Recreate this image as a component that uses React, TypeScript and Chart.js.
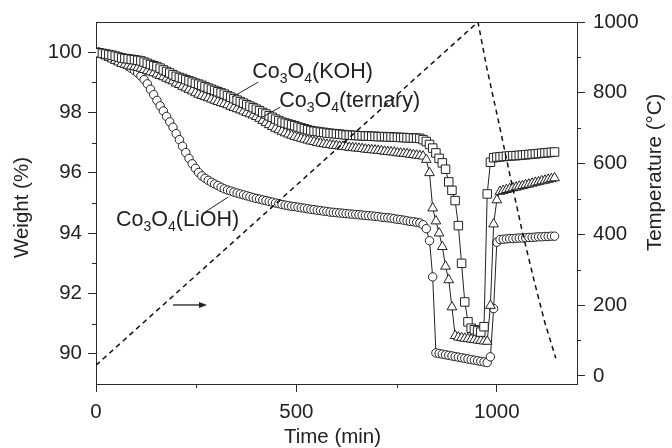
import React, { useEffect, useRef } from 'react';
import { Chart, registerables } from 'chart.js';

Chart.register(...registerables);

// ---------- data ----------
const timeMin = [
  0, 8, 16, 24, 32, 40, 48, 56, 64, 72,
  80, 88, 96, 104, 112, 120, 128, 136, 144, 152,
  160, 168, 176, 184, 192, 200, 208, 216, 224, 232,
  240, 248, 256, 264, 272, 280, 288, 296, 304, 312,
  320, 328, 336, 344, 352, 360, 368, 376, 384, 392,
  400, 408, 416, 424, 432, 440, 448, 456, 464, 472,
  480, 488, 496, 504, 512, 520, 528, 536, 544, 552,
  560, 568, 576, 584, 592, 600, 608, 616, 624, 632,
  640, 648, 656, 664, 672, 680, 688, 696, 704, 712,
  720, 728, 736, 744, 752, 760, 768, 776, 784, 792,
  800, 808, 816, 824, 832, 840, 848, 856, 864, 872,
  880, 888, 896, 904, 912, 920, 928, 936, 944, 952,
  960, 968, 976, 984, 992, 1000, 1008, 1016, 1024, 1032,
  1040, 1048, 1056, 1064, 1072, 1080, 1088, 1096, 1104, 1112,
  1120, 1128, 1136, 1144,
];

const kohWeight = [
  100.0, 99.98, 99.96, 99.94, 99.92, 99.9, 99.87, 99.84, 99.81, 99.79,
  99.78, 99.76, 99.75, 99.73, 99.71, 99.67, 99.63, 99.59, 99.55, 99.52,
  99.47, 99.41, 99.36, 99.31, 99.25, 99.2, 99.16, 99.13, 99.09, 99.05,
  99.01, 98.97, 98.94, 98.9, 98.85, 98.81, 98.77, 98.73, 98.69, 98.65,
  98.61, 98.56, 98.51, 98.46, 98.41, 98.36, 98.31, 98.26, 98.21, 98.16,
  98.11, 98.06, 98.0, 97.95, 97.89, 97.84, 97.78, 97.73, 97.68, 97.65,
  97.62, 97.59, 97.56, 97.52, 97.49, 97.46, 97.43, 97.4, 97.38, 97.37,
  97.35, 97.34, 97.32, 97.31, 97.3, 97.29, 97.28, 97.27, 97.25, 97.25,
  97.24, 97.24, 97.23, 97.23, 97.22, 97.22, 97.21, 97.21, 97.2, 97.2,
  97.2, 97.19, 97.19, 97.18, 97.18, 97.17, 97.17, 97.16, 97.16, 97.15,
  97.15, 97.14, 97.1, 97.04, 96.94, 96.82, 96.66, 96.48, 96.33, 96.12,
  95.7, 95.42, 95.08, 94.25, 93.0, 91.72, 91.06, 90.85, 90.8, 90.76,
  90.72, 90.9, 95.3, 96.35, 96.5, 96.52, 96.53, 96.54, 96.55, 96.56,
  96.57, 96.57, 96.58, 96.59, 96.6, 96.61, 96.62, 96.63, 96.64, 96.65,
  96.66, 96.67, 96.68, 96.69,
];

const ternaryWeight = [
  100.0, 99.96, 99.92, 99.87, 99.82, 99.77, 99.72, 99.67, 99.62, 99.59,
  99.56, 99.53, 99.51, 99.49, 99.46, 99.42, 99.38, 99.34, 99.31, 99.27,
  99.22, 99.18, 99.13, 99.08, 99.04, 98.97, 98.92, 98.86, 98.81, 98.76,
  98.71, 98.65, 98.6, 98.56, 98.52, 98.48, 98.44, 98.4, 98.36, 98.32,
  98.29, 98.25, 98.2, 98.16, 98.12, 98.08, 98.04, 97.99, 97.95, 97.91,
  97.86, 97.8, 97.73, 97.66, 97.59, 97.53, 97.47, 97.42, 97.37, 97.32,
  97.28, 97.24, 97.2, 97.17, 97.14, 97.11, 97.08, 97.05, 97.03, 97.0,
  96.98, 96.96, 96.94, 96.93, 96.91, 96.9, 96.88, 96.87, 96.86, 96.84,
  96.83, 96.82, 96.81, 96.8, 96.78, 96.77, 96.76, 96.75, 96.74, 96.73,
  96.71, 96.7, 96.69, 96.68, 96.66, 96.65, 96.64, 96.63, 96.61, 96.6,
  96.58, 96.57, 96.55, 96.44, 96.0, 94.83, 94.4, 94.0, 93.55, 92.9,
  92.45, 91.55, 90.6, 90.55, 90.53, 90.51, 90.5, 90.48, 90.47, 90.45,
  90.44, 90.42, 90.41, 91.6, 94.3, 95.1, 95.38, 95.41, 95.44, 95.47,
  95.5, 95.52, 95.55, 95.57, 95.6, 95.62, 95.65, 95.68, 95.7, 95.73,
  95.75, 95.78, 95.8, 95.83,
];

const liohWeight = [
  100.0, 99.97, 99.94, 99.91, 99.87, 99.82, 99.78, 99.73, 99.67, 99.6,
  99.53, 99.46, 99.39, 99.31, 99.21, 99.09, 98.95, 98.77, 98.59, 98.4,
  98.22, 98.05, 97.87, 97.69, 97.51, 97.3, 97.1, 96.88, 96.67, 96.48,
  96.3, 96.15, 96.01, 95.9, 95.82, 95.75, 95.69, 95.63, 95.58, 95.52,
  95.47, 95.43, 95.4, 95.36, 95.33, 95.3, 95.27, 95.24, 95.21, 95.18,
  95.15, 95.13, 95.1, 95.08, 95.05, 95.03, 95.0, 94.98, 94.95, 94.93,
  94.91, 94.89, 94.88, 94.86, 94.84, 94.83, 94.81, 94.79, 94.78, 94.76,
  94.75, 94.73, 94.72, 94.7, 94.69, 94.68, 94.67, 94.66, 94.65, 94.64,
  94.63, 94.62, 94.61, 94.6, 94.59, 94.58, 94.57, 94.56, 94.55, 94.53,
  94.52, 94.51, 94.5, 94.48, 94.46, 94.45, 94.43, 94.41, 94.39, 94.38,
  94.36, 94.34, 94.28, 94.15, 93.75, 92.55, 90.03, 90.01, 89.99, 89.97,
  89.95, 89.93, 89.91, 89.89, 89.87, 89.85, 89.83, 89.81, 89.79, 89.77,
  89.75, 89.73, 89.71, 89.9, 91.5, 93.7, 93.79, 93.8, 93.81, 93.82,
  93.82, 93.83, 93.84, 93.84, 93.85, 93.86, 93.86, 93.87, 93.88, 93.88,
  93.89, 93.89, 93.9, 93.9,
];

const tempTime = [0, 953, 975, 1005, 1035, 1065, 1095, 1120, 1147];
const tempValue = [30, 1000, 870, 715, 555, 400, 260, 150, 50];

const xTicks = [0, 500, 1000];
const xMinorTicks = [250, 750];
const weightTicks = [90, 92, 94, 96, 98, 100];
const weightMinorTicks = [91, 93, 95, 97, 99];
const tempTicks = [0, 200, 400, 600, 800, 1000];
const tempMinorTicks = [100, 300, 500, 700, 900];

// labels (text, anchor time, anchor weight at baseline-left)
const labelTexts = ['Co3O4(KOH)', 'Co3O4(ternary)', 'Co3O4(LiOH)'];
const labelTime = [390, 457, 50];
const labelWeight = [99.16, 98.17, 94.23];
// leader lines
const leaderFromTime = [405, 460, 272];
const leaderFromWeight = [99.01, 98.18, 94.7];
const leaderToTime = [340, 410, 330];
const leaderToWeight = [98.51, 97.81, 95.2];
// arrow pointing to the temperature axis
const arrowTime = [192, 277];
const arrowWeight = 91.62;

const xTitle = 'Time (min)';
const yTitle = 'Weight (%)';
const tTitle = 'Temperature (\u00B0C)';

// ---------- style ----------
const FONT = '"Liberation Sans", Arial, sans-serif';
const TEXT = '#222';
const AXIS = '#2a2a2a';
const LINE = '#222';
const MINOR = 4;

function drawChem(ctx: CanvasRenderingContext2D, text: string, x: number, y: number) {
  const parts = text.split(/(\d+)/);
  let cx = x;
  parts.forEach((p, i) => {
    if (!p) return;
    const sub = i % 2 === 1;
    ctx.font = sub ? `14px ${FONT}` : `21.5px ${FONT}`;
    ctx.fillText(p, cx, sub ? y + 5 : y);
    cx += ctx.measureText(p).width;
  });
}

const overlayPlugin = {
  id: 'overlay',
  afterDraw(chart: any) {
    const { ctx, chartArea: a, scales } = chart;
    const sx = scales.x, sy = scales.y, st = scales.yT;
    ctx.save();
    ctx.strokeStyle = AXIS;
    ctx.lineWidth = 1;
    ctx.beginPath();
    ctx.moveTo(a.left, Math.round(a.top) + 0.5);
    ctx.lineTo(a.right, Math.round(a.top) + 0.5);
    ctx.stroke();
    ctx.beginPath();
    xMinorTicks.forEach((v) => {
      const p = Math.round(sx.getPixelForValue(v)) + 0.5;
      ctx.moveTo(p, a.bottom);
      ctx.lineTo(p, a.bottom + MINOR);
    });
    weightMinorTicks.forEach((v) => {
      const p = Math.round(sy.getPixelForValue(v)) + 0.5;
      ctx.moveTo(a.left, p);
      ctx.lineTo(a.left - MINOR, p);
    });
    tempMinorTicks.forEach((v) => {
      const p = Math.round(st.getPixelForValue(v)) + 0.5;
      ctx.moveTo(a.right, p);
      ctx.lineTo(a.right + MINOR, p);
    });
    ctx.stroke();

    ctx.strokeStyle = '#222';
    ctx.lineWidth = 1;
    ctx.beginPath();
    leaderFromTime.forEach((t, i) => {
      ctx.moveTo(sx.getPixelForValue(t), sy.getPixelForValue(leaderFromWeight[i]));
      ctx.lineTo(sx.getPixelForValue(leaderToTime[i]), sy.getPixelForValue(leaderToWeight[i]));
    });
    ctx.stroke();

    const ax0 = sx.getPixelForValue(arrowTime[0]);
    const ax1 = sx.getPixelForValue(arrowTime[1]);
    const ay = sy.getPixelForValue(arrowWeight);
    ctx.lineWidth = 1.3;
    ctx.beginPath();
    ctx.moveTo(ax0, ay);
    ctx.lineTo(ax1 - 5, ay);
    ctx.stroke();
    ctx.fillStyle = '#222';
    ctx.beginPath();
    ctx.moveTo(ax1, ay);
    ctx.lineTo(ax1 - 8, ay - 3);
    ctx.lineTo(ax1 - 8, ay + 3);
    ctx.closePath();
    ctx.fill();

    ctx.fillStyle = TEXT;
    ctx.textAlign = 'left';
    ctx.textBaseline = 'alphabetic';
    labelTexts.forEach((txt, i) => {
      drawChem(ctx, txt, sx.getPixelForValue(labelTime[i]), sy.getPixelForValue(labelWeight[i]));
    });

    ctx.font = `20.5px ${FONT}`;
    ctx.textAlign = 'center';
    ctx.fillText(xTitle, sx.getPixelForValue(590), a.bottom + 59);
    ctx.save();
    ctx.translate(a.left - 68, sy.getPixelForValue(94.85));
    ctx.rotate(-Math.PI / 2);
    ctx.fillText(yTitle, 0, 0);
    ctx.restore();
    ctx.save();
    ctx.translate(a.right + 84, st.getPixelForValue(575));
    ctx.rotate(-Math.PI / 2);
    ctx.fillText(tTitle, 0, 0);
    ctx.restore();

    ctx.restore();
  },
};

function axisOpts(ticks: number[], pad: number, fit: (s: any) => void) {
  return {
    grid: { drawOnChartArea: false, drawTicks: true, tickLength: 8, color: AXIS, tickColor: AXIS, lineWidth: 1 },
    border: { display: true, color: AXIS, width: 1 },
    ticks: {
      font: { family: FONT, size: 20.5 },
      color: TEXT,
      padding: pad,
      maxRotation: 0,
      autoSkip: false,
      callback: (v: number) => String(v),
    },
    afterBuildTicks: (s: any) => {
      s.ticks = ticks.map((v) => ({ value: v }));
    },
    afterFit: fit,
  };
}

export default function App() {
  const ref = useRef<HTMLCanvasElement>(null);
  useEffect(() => {
    document.body.style.margin = '0';
    const mk = (ys: number[]) => timeMin.map((t, i) => ({ x: t, y: ys[i] }));
    const markerBase = {
      yAxisID: 'y',
      showLine: true,
      borderColor: LINE,
      borderWidth: 1,
      pointBorderWidth: 1,
      pointBackgroundColor: '#ffffff',
      pointBorderColor: LINE,
    };
    const chart = new Chart(ref.current as HTMLCanvasElement, {
      type: 'scatter',
      data: {
        datasets: [
          {
            label: 'Temperature',
            data: tempTime.map((t, i) => ({ x: t, y: tempValue[i] })),
            yAxisID: 'yT',
            showLine: true,
            borderColor: '#111',
            borderWidth: 1.5,
            borderDash: [5, 4],
            pointRadius: 0,
            fill: false,
          },
          { ...markerBase, label: labelTexts[0], data: mk(kohWeight), pointStyle: 'rect', pointRadius: 6 },
          { ...markerBase, label: labelTexts[1], data: mk(ternaryWeight), pointStyle: 'triangle', pointRadius: 5.6 },
          { ...markerBase, label: labelTexts[2], data: mk(liohWeight), pointStyle: 'circle', pointRadius: 4.2 },
        ] as any,
      },
      options: {
        responsive: false,
        animation: false,
        devicePixelRatio: 1,
        layout: { padding: { top: 22, left: 0, right: 0, bottom: 0 } },
        elements: { line: { tension: 0 } },
        plugins: { legend: { display: false }, tooltip: { enabled: false } },
        scales: {
          x: {
            type: 'linear',
            position: 'bottom',
            min: 0,
            max: 1200,
            ...axisOpts(xTicks, 8, (s: any) => { s.height = 64; }),
          },
          y: {
            type: 'linear',
            position: 'left',
            min: 89,
            max: 101,
            ...axisOpts(weightTicks, 6, (s: any) => { s.width = 96; }),
          },
          yT: {
            type: 'linear',
            position: 'right',
            min: -23,
            max: 1000,
            ...axisOpts(tempTicks, 8, (s: any) => { s.width = 95; }),
          },
        } as any,
      },
      plugins: [overlayPlugin],
    } as any);
    return () => chart.destroy();
  }, []);
  return <canvas ref={ref} width={672} height={448} style={{ display: 'block' }} />;
}
